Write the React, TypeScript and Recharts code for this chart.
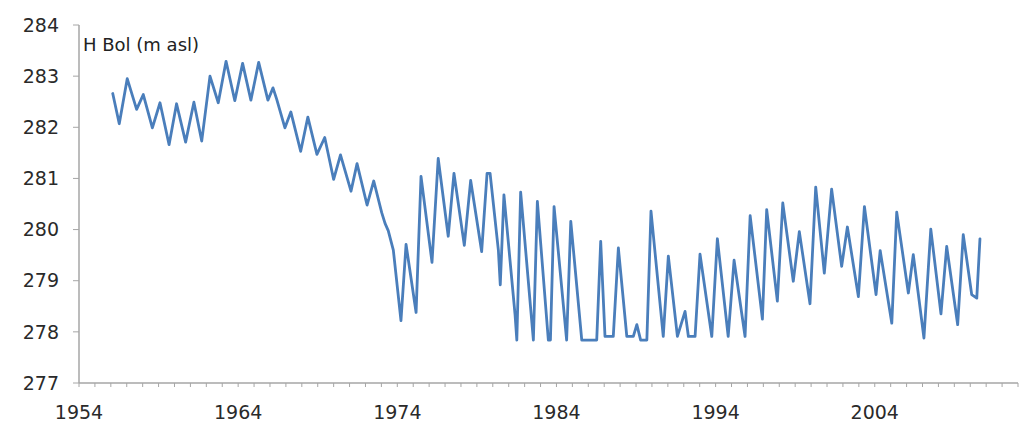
import React from 'react';
import { LineChart, Line, XAxis, YAxis } from 'recharts';

const years = [
  1956.12, 1956.53, 1957.03, 1957.62, 1958.04, 1958.61, 1959.09, 1959.66, 1960.13, 1960.7,
  1961.22, 1961.71, 1962.23, 1962.75, 1963.24, 1963.79, 1964.28, 1964.8, 1965.29, 1965.87,
  1966.19, 1966.42, 1966.94, 1967.31, 1967.93, 1968.38, 1968.95, 1969.44, 1970.0, 1970.43,
  1971.09, 1971.47, 1972.1, 1972.52, 1973.02, 1973.23, 1973.43, 1973.75, 1974.23, 1974.55,
  1975.18, 1975.49, 1976.18, 1976.57, 1977.2, 1977.56, 1978.21, 1978.61, 1979.3, 1979.64,
  1979.83, 1980.35, 1980.47, 1980.7, 1981.4, 1981.51, 1981.75, 1982.55, 1982.8, 1983.49,
  1983.62, 1983.85, 1984.64, 1984.9, 1985.59, 1986.53, 1986.78, 1987.05, 1987.57, 1987.89,
  1988.42, 1988.83, 1989.05, 1989.29, 1989.68, 1989.94, 1990.71, 1991.03, 1991.6, 1992.08,
  1992.29, 1992.71, 1993.02, 1993.76, 1994.11, 1994.79, 1995.16, 1995.85, 1996.17, 1996.94,
  1997.21, 1997.88, 1998.22, 1998.88, 1999.26, 1999.93, 2000.29, 2000.83, 2001.29, 2001.92,
  2002.28, 2002.97, 2003.35, 2004.08, 2004.34, 2005.07, 2005.38, 2006.11, 2006.42, 2007.09,
  2007.52, 2008.16, 2008.52, 2009.21, 2009.56, 2010.09, 2010.41, 2010.61,
];

const levels = [
  282.66, 282.07, 282.95, 282.35, 282.64, 281.99, 282.48, 281.66, 282.46, 281.71,
  282.49, 281.73, 283.0, 282.48, 283.29, 282.52, 283.25, 282.53, 283.27, 282.53,
  282.77, 282.55, 281.99, 282.3, 281.53, 282.2, 281.47, 281.8, 280.98, 281.46,
  280.75, 281.29, 280.48, 280.95, 280.33, 280.12, 279.98, 279.6, 278.22, 279.71,
  278.38, 281.04, 279.36, 281.39, 279.87, 281.1, 279.69, 280.96, 279.57, 281.1,
  281.1, 279.6, 278.92, 280.68, 278.33, 277.84, 280.73, 277.84, 280.55, 277.84,
  277.84, 280.45, 277.84, 280.16, 277.84, 277.84, 279.77, 277.91, 277.91, 279.64,
  277.91, 277.91, 278.14, 277.84, 277.84, 280.36, 277.91, 279.48, 277.91, 278.4,
  277.91, 277.91, 279.52, 277.91, 279.82, 277.91, 279.4, 277.91, 280.27, 278.25,
  280.39, 278.6, 280.52, 278.99, 279.96, 278.55, 280.83, 279.15, 280.79, 279.28,
  280.05, 278.69, 280.45, 278.73, 279.59, 278.17, 280.34, 278.76, 279.51, 277.88,
  280.01, 278.35, 279.67, 278.14, 279.9, 278.73, 278.66, 279.82,
];

const yTicks = [277, 278, 279, 280, 281, 282, 283, 284];
const majorYearLabels = [1954, 1964, 1974, 1984, 1994, 2004];
const xStart = 1954;
const xEnd = 2013;
const minorYearTicks = Array.from({ length: xEnd - xStart + 1 }, (_, i) => xStart + i);

const axisLabel = 'H Bol (m asl)';

const data = years.map((year, i) => ({ year, level: levels[i] }));

const FONT = '"DejaVu Sans", Verdana, sans-serif';

export default function App() {
  return (
    <div
      style={{
        position: 'absolute',
        left: 0,
        top: 0,
        width: 1022,
        height: 424,
        background: '#ffffff',
        fontFamily: FONT,
      }}
    >
      <LineChart
        width={1022}
        height={424}
        data={data}
        margin={{ top: 25, right: 4, left: 8, bottom: 11 }}
      >
        <XAxis
          dataKey="year"
          type="number"
          domain={[xStart, xEnd]}
          ticks={minorYearTicks}
          interval={0}
          tickFormatter={(v: number) => (majorYearLabels.includes(v) ? String(v) : '')}
          height={30}
          tickSize={4}
          tickMargin={19}
          axisLine={{ stroke: '#a6a6a6', strokeWidth: 1.5 }}
          tickLine={{ stroke: '#a6a6a6' }}
          tick={{ fill: '#2a2a2a', fontSize: 19, fontFamily: FONT }}
          allowDataOverflow
        />
        <YAxis
          type="number"
          domain={[277, 284]}
          ticks={yTicks}
          interval={0}
          width={71}
          tickSize={6}
          tickMargin={14}
          axisLine={{ stroke: '#a6a6a6', strokeWidth: 1.5 }}
          tickLine={{ stroke: '#a6a6a6' }}
          tick={{ fill: '#2a2a2a', fontSize: 19, fontFamily: FONT }}
          allowDataOverflow
        />
        <Line
          type="linear"
          dataKey="level"
          stroke="#4a7ebb"
          strokeWidth={2.8}
          strokeLinejoin="round"
          strokeLinecap="round"
          dot={false}
          activeDot={false}
          isAnimationActive={false}
        />
      </LineChart>
      <div
        style={{
          position: 'absolute',
          left: 83,
          top: 35,
          fontSize: 18,
          color: '#222',
          fontFamily: FONT,
          lineHeight: '20px',
          whiteSpace: 'nowrap',
        }}
      >
        {axisLabel}
      </div>
    </div>
  );
}
